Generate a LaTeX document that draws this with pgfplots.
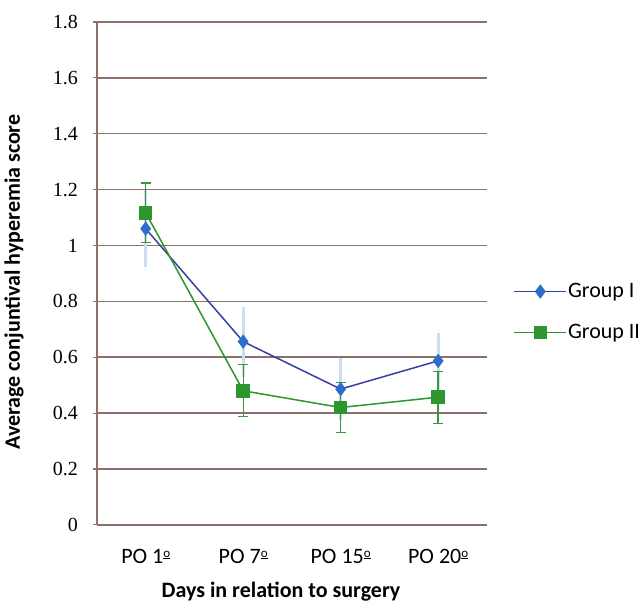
\documentclass[border=0pt]{standalone}
\usepackage{fontspec}
\setmainfont{Carlito}
\newfontfamily\timesfont{Liberation Serif}
\usepackage{pgfplots}
\pgfplotsset{compat=1.18}
\definecolor{gridc}{RGB}{140,112,105}
\definecolor{blueL}{RGB}{55,65,160}
\definecolor{blueM}{RGB}{45,110,205}
\definecolor{blueE}{RGB}{205,222,240}
\definecolor{greenL}{RGB}{45,150,45}
\definecolor{greenE}{RGB}{60,150,60}
\newcommand\ord{\raisebox{.6ex}{\fontsize{13}{13}\selectfont\underline{o}}}
\begin{document}
\begin{tikzpicture}
\begin{axis}[
  scale only axis, width=390pt, height=503pt,
  xmin=-0.5, xmax=3.5, ymin=0, ymax=1.8,
  xtick={0,1,2,3}, xticklabels={PO 1\ord, PO 7\ord, PO 15\ord, PO 20\ord},
  ytick={0,0.2,...,1.8},
  yticklabel style={font=\timesfont\fontsize{20}{22}\selectfont, xshift=-14pt, inner sep=1pt},
  xticklabel style={font=\fontsize{22}{24}\selectfont, yshift=-19pt, inner sep=1pt},
  /pgf/number format/assume math mode=true,
  yticklabel={\pgfmathprintnumber[fixed,precision=1]{\tick}},
  axis x line*=bottom, axis y line*=left,
  axis line style={gridc, line width=1.3pt, -},
  ymajorgrids, grid style={gridc, line width=1.5pt},
  xtick style={draw=none},
  ytick style={gridc, line width=1.2pt},
  tick align=outside, major tick length=4pt,
  ylabel={\bfseries Average conjuntival hyperemia score},
  ylabel style={font=\fontsize{22}{24}\selectfont, at={(axis description cs:-0.213,0.483)}, anchor=center, inner sep=1pt},
  xlabel={\bfseries Days in relation to surgery},
  xlabel style={font=\fontsize{22}{24}\selectfont, at={(axis description cs:0.472,-0.133)}, anchor=center, inner sep=1pt},
  legend style={at={(1.068,0.4235)}, anchor=west, draw=none, fill=none,
    font=\fontsize{22}{24}\selectfont, row sep=23pt, inner sep=0pt,
    nodes={inner sep=1pt}},
  legend image code/.code={\draw[mark repeat=2,mark phase=2] plot coordinates {(0pt,0pt) (26pt,0pt) (52pt,0pt)};},
  legend cell align=left,
  clip=false,
]
\addplot[blueL, line width=1.5pt, mark=diamond*, mark size=6pt,
  mark options={fill=blueM, draw=blueM},
  error bars/.cd, y dir=both, y explicit,
  error bar style={blueE, line width=3pt}, error mark=none]
  coordinates {
  (0,1.06) +- (0,0.137)
  (1,0.656) +- (0,0.125)
  (2,0.486) +- (0,0.11)
  (3,0.587) +- (0,0.10)
};
\addlegendentry{Group I}
\addplot[greenL, line width=1.5pt, mark=square*, mark size=6pt,
  mark options={fill=greenL, draw=greenL},
  error bars/.cd, y dir=both, y explicit,
  error bar style={greenE, line width=1.3pt},
  error mark options={rotate=90, mark size=5pt, line width=1.3pt, greenE}]
  coordinates {
  (0,1.117) +- (0,0.107)
  (1,0.48) +- (0,0.093)
  (2,0.42) +- (0,0.09)
  (3,0.457) +- (0,0.093)
};
\addlegendentry{Group II}
\path (rel axis cs:0,1) ++(-97pt,22pt) coordinate (tl);
\path (rel axis cs:1,0) ++(154pt,-80pt) coordinate (br);
\path (tl) rectangle (br);
\end{axis}
\end{tikzpicture}
\end{document}
